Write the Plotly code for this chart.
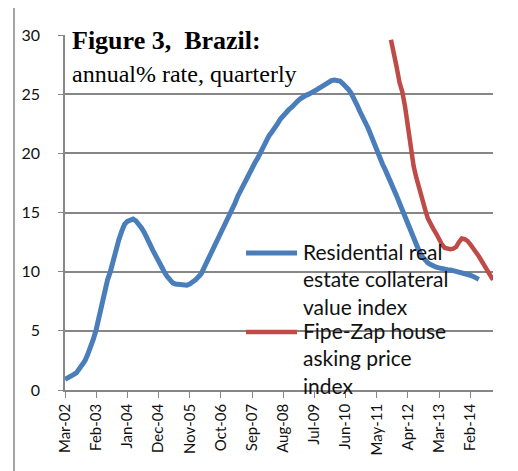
import pandas as pd
import plotly.graph_objects as go

# monthly categories, Mar-02 .. Oct-14
months = pd.date_range("2002-03-01", "2014-10-01", freq="MS").strftime("%b-%y").tolist()

tick_labels = [
    "Mar-02", "Feb-03", "Jan-04", "Dec-04", "Nov-05", "Oct-06", "Sep-07",
    "Aug-08", "Jul-09", "Jun-10", "May-11", "Apr-12", "Mar-13", "Feb-14",
]

# residential real estate collateral value index, annual % (Mar-02 .. May-14)
collateral = [
    0.9, 1.0, 1.15, 1.3, 1.45, 1.75, 2.05, 2.45, 3.0, 3.6,
    4.3, 5.1, 6.2, 7.3, 8.4, 9.3, 10.0, 11.0, 11.9, 12.7,
    13.4, 14.0, 14.25, 14.4, 14.45, 14.3, 14.05, 13.7, 13.3, 12.9,
    12.3, 11.8, 11.3, 11.0, 10.4, 10.0, 9.6, 9.3, 9.05, 8.95,
    8.9, 8.85, 8.8, 8.85, 8.95, 9.1, 9.3, 9.55, 9.8, 10.3,
    10.8, 11.1, 11.6, 12.1, 12.7, 13.3, 13.8, 14.3, 14.8, 15.3,
    15.8, 16.4, 16.9, 17.4, 17.9, 18.3, 18.8, 19.2, 19.6, 20.1,
    20.7, 21.1, 21.5, 21.8, 22.1, 22.5, 22.9, 23.2, 23.4, 23.7,
    23.9, 24.2, 24.4, 24.6, 24.8, 24.9, 25.0, 25.1, 25.2, 25.4,
    25.55, 25.7, 25.9, 26.05, 26.15, 26.2, 26.2, 26.1, 25.9, 25.7,
    25.4, 25.05, 24.65, 24.1, 23.55, 23.1, 22.65, 22.1, 21.5, 20.85,
    20.2, 19.5, 19.1, 18.6, 18.1, 17.6, 16.9, 16.4, 15.8, 15.2,
    14.6, 14.0, 13.4, 12.8, 12.2, 11.7, 11.3, 11.0, 10.75, 10.6,
    10.45, 10.38, 10.32, 10.25, 10.2, 10.17, 10.15, 10.1, 10.05, 10.0,
    9.95, 9.85, 9.8, 9.7, 9.6, 9.5, 9.35,
]

# Fipe-Zap house asking price index, annual % (Oct-11 .. Oct-14)
fipezap_start = "Oct-11"
fipezap = [
    29.6, 28.2, 27.3, 26.0, 25.2, 23.9, 22.2, 20.8, 18.9, 17.9,
    16.9, 16.3, 15.3, 14.5, 13.95, 13.6, 13.2, 12.7, 12.3, 12.0,
    11.95, 11.9, 11.95, 12.1, 12.5, 12.8, 12.75, 12.6, 12.3, 12.0,
    11.7, 11.3, 10.9, 10.5, 10.1, 9.7, 9.3,
]

BLUE = "#4a7ebb"
RED = "#be4b48"
GREY = "#868686"

i0 = months.index(fipezap_start)

fig = go.Figure()
fig.add_scatter(
    x=months[: len(collateral)],
    y=collateral,
    mode="lines",
    line=dict(color=BLUE, width=5),
    name="Residential real estate collateral value index",
)
fig.add_scatter(
    x=months[i0 : i0 + len(fipezap)],
    y=fipezap,
    mode="lines",
    line=dict(color=RED, width=4.5),
    name="Fipe-Zap house asking price index",
)


# helpers: page pixel -> paper coords (plot area spans 65..493 x 35..390 on the page)
def px_x(px):
    return (px - 65) / 428


def px_y(py):
    return (390 - py) / 355


# outer chart border (only top/left visible in the crop)
fig.add_shape(
    type="rect", xref="paper", yref="paper",
    x0=px_x(14), x1=px_x(540), y0=px_y(500), y1=px_y(7),
    line=dict(color=GREY, width=1.5), layer="below",
)

# hand-drawn legend
for py, col, w in [(253, BLUE, 5), (332, RED, 4.5)]:
    fig.add_shape(
        type="line", xref="paper", yref="paper",
        x0=px_x(246), x1=px_x(297), y0=px_y(py), y1=px_y(py),
        line=dict(color=col, width=w),
    )
fig.add_annotation(
    xref="paper", yref="paper", x=px_x(301), y=px_y(279),
    xanchor="left", yanchor="middle", align="left", showarrow=False,
    text="Residential real<br>estate collateral<br>value index",
    font=dict(family="Lato", size=21, color="#111"),
)
fig.add_annotation(
    xref="paper", yref="paper", x=px_x(301), y=px_y(358),
    xanchor="left", yanchor="middle", align="left", showarrow=False,
    text="Fipe-Zap house<br>asking price<br>index",
    font=dict(family="Lato", size=21, color="#111"),
)

# title block
fig.add_annotation(
    xref="paper", yref="paper", x=px_x(70), y=px_y(41),
    xanchor="left", yanchor="middle", showarrow=False,
    text="<b>Figure 3,  Brazil:</b>",
    font=dict(family="Liberation Serif", size=26, color="#000"),
)
fig.add_annotation(
    xref="paper", yref="paper", x=px_x(70), y=px_y(74),
    xanchor="left", yanchor="middle", showarrow=False,
    text="annual% rate, quarterly",
    font=dict(family="Liberation Serif", size=24, color="#000"),
)

fig.update_xaxes(
    type="category",
    range=[0, len(months) - 1],
    tickmode="array",
    tickvals=tick_labels,
    ticktext=tick_labels,
    tickangle=-90,
    ticks="outside",
    ticklen=6,
    tickcolor=GREY,
    showline=True,
    linecolor=GREY,
    linewidth=1.5,
    showgrid=False,
    tickfont=dict(family="Lato", size=15, color="#111"),
)
fig.update_yaxes(
    range=[0, 30],
    dtick=5,
    ticks="outside",
    ticklen=5,
    tickcolor=GREY,
    showline=True,
    linecolor=GREY,
    linewidth=1.5,
    showgrid=True,
    gridcolor=GREY,
    gridwidth=1.5,
    zeroline=False,
    ticklabelstandoff=15,
    tickfont=dict(family="Lato", size=16, color="#111"),
)
# page body has an 8px margin, so the figure is 8px smaller than the window
fig.update_layout(
    width=510,
    height=463,
    margin=dict(l=57, r=25, t=27, b=81),
    paper_bgcolor="white",
    plot_bgcolor="white",
    showlegend=False,
)
fig.write_html("out.html")
